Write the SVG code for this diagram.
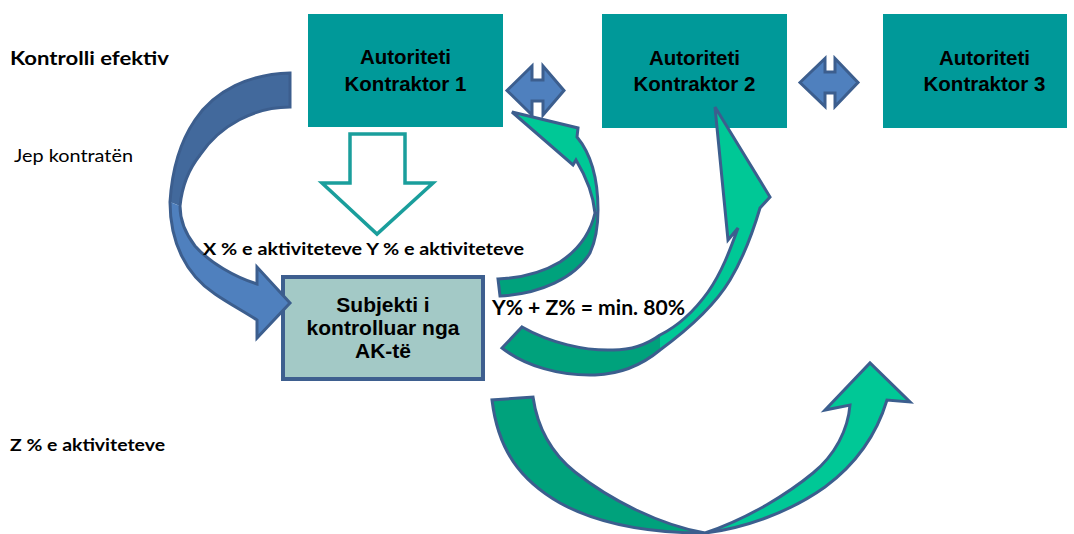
<svg xmlns="http://www.w3.org/2000/svg" width="1074" height="534" viewBox="0 0 1074 534">
  <style>
    .ak { fill: #009999; }
    .ak-text { font-family: "Liberation Sans", Arial, sans-serif; font-weight: bold; font-size: 20.5px; fill: #000; text-anchor: middle; }
    .subj { fill: #a3c9c6; stroke: #3e5f8f; stroke-width: 4; }
    .subj-text { font-family: "Liberation Sans", Arial, sans-serif; font-weight: bold; font-size: 21px; fill: #000; text-anchor: middle; }
    .label { font-family: Lato, "Open Sans", sans-serif; fill: #000; }
    .bold { font-weight: bold; }
    .edge { fill: none; stroke: #3c5e8e; stroke-width: 3; stroke-linejoin: miter; }
    .blue-back { fill: #42699c; }
    .blue-front { fill: #4f80be; }
    .green-dark { fill: #00a27c; }
    .green-light { fill: #00c896; }
    .hollow { fill: #ffffff; stroke: #1a9e9c; stroke-width: 3.5; stroke-linejoin: miter; }
  </style>

  <!-- side labels -->
  <g id="labels">
    <text class="label bold" x="10" y="65" font-size="19" textLength="159" lengthAdjust="spacingAndGlyphs">Kontrolli efektiv</text>
    <text class="label" x="14" y="162" font-size="16.5" textLength="119" lengthAdjust="spacingAndGlyphs">Jep kontratën</text>
    <text class="label bold" x="10" y="451" font-size="17.5" textLength="155" lengthAdjust="spacingAndGlyphs">Z % e aktiviteteve</text>
  </g>

  <!-- contracting authorities -->
  <g id="node-ak1">
    <rect class="ak" x="308" y="14" width="195" height="113"/>
    <text class="ak-text" x="405.5" y="64">Autoriteti</text>
    <text class="ak-text" x="405.5" y="90.5">Kontraktor 1</text>
  </g>
  <g id="node-ak2">
    <rect class="ak" x="602" y="14" width="185" height="114"/>
    <text class="ak-text" x="694.5" y="64.5">Autoriteti</text>
    <text class="ak-text" x="694.5" y="91">Kontraktor 2</text>
  </g>
  <g id="node-ak3">
    <rect class="ak" x="883" y="14" width="184" height="114"/>
    <text class="ak-text" x="984.5" y="64.5">Autoriteti</text>
    <text class="ak-text" x="984.5" y="91">Kontraktor 3</text>
  </g>

  <!-- controlled entity -->
  <g id="node-subject">
    <rect class="subj" x="283" y="277" width="200" height="102"/>
    <text class="subj-text" x="383" y="312">Subjekti i</text>
    <text class="subj-text" x="383" y="335">kontrolluar nga</text>
    <text class="subj-text" x="383" y="358">AK-të</text>
  </g>

  <g id="connectors">
    <!-- curved blue arrow: AK1 gives the contract (back face, front face, outline) -->
    <path class="blue-back" d="M290,73 C250,74 215,90 195,120 C180,142 172,170 170,202 L180,206 C182,186 188,170 200,155 C220,125 255,107 290,107 Z"/>
    <path class="blue-front" d="M170,202 C170,242 186,275 215,294 C228,303 243,311 257,320 L257,338 L290,303 L257,267 L257,284 C235,277 210,263 195,246 C185,233 180,220 180,206 Z"/>
    <path class="edge" d="M290,73 C250,74 215,90 195,120 C180,142 172,170 170,202 C170,242 186,275 215,294 C228,303 243,311 257,320 L257,338 L290,303 L257,267 L257,284 C235,277 210,263 195,246 C185,233 180,220 180,206 C182,186 188,170 200,155 C220,125 255,107 290,107 Z"/>

    <!-- hollow down arrow from AK1 -->
    <polygon class="hollow" points="350,134 405,134 405,183 433,183 377,234 322,183 350,183"/>

    <!-- double arrows between authorities -->
    <polygon class="blue-front" points="507,90.5 532,66 532,80 543,80 543,66 564,90.5 543,115 543,101 532,101 532,115"/>
    <polygon class="edge" points="507,90.5 532,66 532,80 543,80 543,66 564,90.5 543,115 543,101 532,101 532,115"/>
    <polygon class="blue-front" points="800,82.5 825,58.5 825,72 835,72 835,58.5 858,82.5 835,106.5 835,93 825,93 825,106.5"/>
    <polygon class="edge" points="800,82.5 825,58.5 825,72 835,72 835,58.5 858,82.5 835,106.5 835,93 825,93 825,106.5"/>

    <!-- small green arrow: entity back to AK1 -->
    <path class="green-dark" d="M500,296 C540,294 575,278 590,253 C595,242 598,228 598,210 L595,213 C590,235 578,250 560,262 C540,274 520,278 498,279 Z"/>
    <path class="green-light" d="M598,210 C598,180 592,155 577,137 L578,128 L512,112 L573,165 L576,160 C585,175 593,192 595,213 Z"/>
    <path class="edge" d="M500,296 C540,294 575,278 590,253 C595,242 598,228 598,210 C598,180 592,155 577,137 L578,128 L512,112 L573,165 L576,160 C585,175 593,192 595,213 C590,235 578,250 560,262 C540,274 520,278 498,279 Z"/>

    <!-- green arrow: entity to AK2 -->
    <path class="green-dark" d="M502,348 C525,366 560,376 595,375 C620,374 642,365 660,350 L660,335 C645,346 628,350 613,350 C585,351 550,343 522,327 Z"/>
    <path class="green-light" d="M660,350 C690,328 715,305 730,280 C742,260 752,235 760,208 L770,197 L715,107 L728,240 L738,228 C730,250 722,272 708,292 C695,310 680,325 660,335 Z"/>
    <path class="edge" d="M502,348 C525,366 560,376 595,375 C620,374 642,365 660,350 C690,328 715,305 730,280 C742,260 752,235 760,208 L770,197 L715,107 L728,240 L738,228 C730,250 722,272 708,292 C695,310 680,325 660,335 C645,346 628,350 613,350 C585,351 550,343 522,327 Z"/>

    <!-- green arrow: entity to AK3 -->
    <path class="green-dark" d="M492,400 C498,450 520,480 560,503 C600,525 650,533 705,533 C660,525 610,500 575,472 C550,452 537,425 533,397 Z"/>
    <path class="green-light" d="M705,533 C745,528 790,512 825,487 C852,467 875,440 887,400 L910,402 L870,363 L825,410 L850,405 C848,430 835,455 813,473 C790,492 750,518 705,533 Z"/>
    <path class="edge" d="M492,400 C498,450 520,480 560,503 C600,525 650,533 705,533 C745,528 790,512 825,487 C852,467 875,440 887,400 L910,402 L870,363 L825,410 L850,405 C848,430 835,455 813,473 C790,492 750,518 705,533 C660,525 610,500 575,472 C550,452 537,425 533,397 Z"/>
  </g>

  <!-- share labels -->
  <g id="share-labels">
    <text class="label bold" x="203" y="255" font-size="17" textLength="321" lengthAdjust="spacingAndGlyphs">X % e aktiviteteve Y % e aktiviteteve</text>
    <text class="label bold" x="492" y="315" font-size="20.5" textLength="193" lengthAdjust="spacingAndGlyphs">Y% + Z% = min. 80%</text>
  </g>
</svg>
